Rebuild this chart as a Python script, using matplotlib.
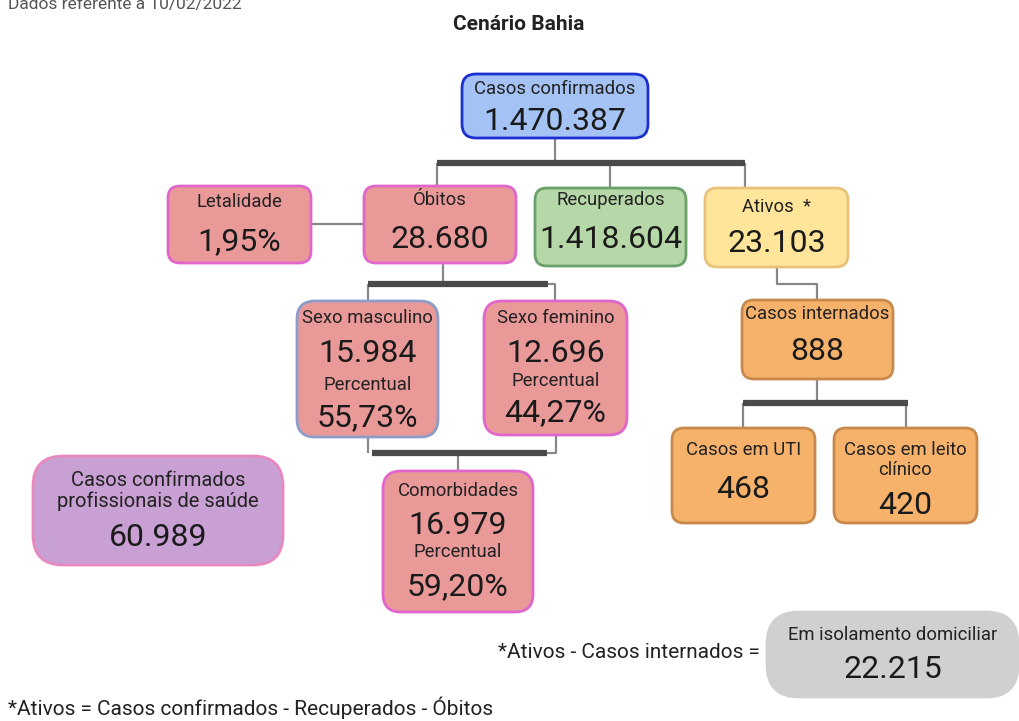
import matplotlib.pyplot as plt
from matplotlib.patches import FancyBboxPatch

plt.rcParams['font.family'] = ['Roboto', 'DejaVu Sans']

# dados
titulo = "Cenário Bahia"
data_ref = "Dados referente a 10/02/2022"
rotulos = ["Casos confirmados", "Letalidade", "Óbitos", "Recuperados", "Ativos  *",
           "Sexo masculino", "Sexo feminino", "Comorbidades", "Casos internados",
           "Casos em UTI", "Casos em leito\nclínico",
           "Casos confirmados\nprofissionais de saúde", "Em isolamento domiciliar"]
valores = ["1.470.387", "1,95%", "28.680", "1.418.604", "23.103",
           "15.984", "12.696", "16.979", "888", "468", "420", "60.989", "22.215"]
percentuais = {"Sexo masculino": "55,73%", "Sexo feminino": "44,27%", "Comorbidades": "59,20%"}

# layout: x0, y0, x1, y1 (pixels), label y, value y, pct-label y, pct y
caixas = {
    "Casos confirmados": ((462, 74, 648, 138), 89, 122, None, None),
    "Letalidade": ((168, 186, 311, 263), 202, 242, None, None),
    "Óbitos": ((364, 186, 516, 263), 200, 240, None, None),
    "Recuperados": ((535, 188, 686, 266), 200, 240, None, None),
    "Ativos  *": ((705, 188, 848, 267), 207, 244, None, None),
    "Sexo masculino": ((297, 301, 438, 437), 318, 353, 385, 418),
    "Sexo feminino": ((484, 301, 627, 435), 318, 353, 381, 413),
    "Comorbidades": ((383, 471, 533, 612), 491, 525, 552, 587),
    "Casos internados": ((742, 300, 893, 379), 314, 352, None, None),
    "Casos em UTI": ((672, 428, 815, 523), 450, 490, None, None),
    "Casos em leito\nclínico": ((834, 428, 977, 523), 460, 505, None, None),
    "Casos confirmados\nprofissionais de saúde": ((33, 456, 283, 565), 491, 537, None, None),
    "Em isolamento domiciliar": ((767, 612, 1018, 697), 635, 670, None, None),
}
estilos = {
    "Casos confirmados": ("#a4c2f4", "#1c2fd0", 14),
    "Letalidade": ("#ea9999", "#e066cc", 12),
    "Óbitos": ("#ea9999", "#e066cc", 12),
    "Recuperados": ("#b6d7a8", "#6aa06a", 12),
    "Ativos  *": ("#ffe599", "#e8c27c", 12),
    "Sexo masculino": ("#ea9999", "#8e9cc8", 18),
    "Sexo feminino": ("#ea9999", "#e066cc", 18),
    "Comorbidades": ("#ea9999", "#e066cc", 18),
    "Casos internados": ("#f6b26b", "#c8894c", 12),
    "Casos em UTI": ("#f6b26b", "#c8894c", 12),
    "Casos em leito\nclínico": ("#f6b26b", "#c8894c", 12),
    "Casos confirmados\nprofissionais de saúde": ("#c9a0d3", "#e888c0", 30),
    "Em isolamento domiciliar": ("#d0d0d0", "#d0d0d0", 32),
}

fig = plt.figure(figsize=(10.2, 7.21), dpi=100)
ax = fig.add_axes([0, 0, 1, 1])
ax.set_xlim(0, 1020)
ax.set_ylim(721, 0)
ax.axis('off')

thin = dict(color="#888888", lw=1.6, solid_capstyle='butt', zorder=1)
thick = dict(color="#4a4a4a", lw=4.5, solid_capstyle='butt', zorder=2)

# conectores
ax.plot([555, 555], [138, 163], **thin)
ax.plot([437, 745], [163, 163], **thick)
ax.plot([437, 437], [163, 186], **thin)
ax.plot([610, 610], [163, 188], **thin)
ax.plot([745, 745], [163, 188], **thin)
ax.plot([311, 364], [224, 224], **thin)
ax.plot([443, 443], [263, 284], **thin)
ax.plot([368, 548], [284, 284], **thick)
ax.plot([548, 555, 555], [284, 284, 301], **thin)
ax.plot([368, 368], [284, 301], **thin)
ax.plot([368, 368], [437, 453], **thin)
ax.plot([372, 547], [453, 453], **thick)
ax.plot([547, 556, 556], [453, 453, 435], **thin)
ax.plot([458, 458], [453, 471], **thin)
ax.plot([777, 777, 817, 817], [267, 284, 284, 300], **thin)
ax.plot([817, 817], [379, 403], **thin)
ax.plot([743, 908], [403, 403], **thick)
ax.plot([743, 743], [403, 428], **thin)
ax.plot([906, 906], [403, 428], **thin)

for nome, valor in zip(rotulos, valores):
    (x0, y0, x1, y1), ly, vy, ply, py = caixas[nome]
    face, edge, r = estilos[nome]
    ax.add_patch(FancyBboxPatch((x0, y0), x1 - x0, y1 - y0,
                                boxstyle=f"round,pad=0,rounding_size={r}",
                                fc=face, ec=edge, lw=2, zorder=3))
    cx = (x0 + x1) / 2
    fs = 14.5 if "profissionais" in nome else 13.3
    ax.text(cx, ly, nome, ha='center', va='center', fontsize=fs,
            color="#222222", zorder=4, linespacing=1.15)
    ax.text(cx, vy, valor, ha='center', va='center', fontsize=23,
            color="#1a1a1a", zorder=4)
    if ply is not None:
        ax.text(cx, ply, "Percentual", ha='center', va='center', fontsize=13.3,
                color="#222222", zorder=4)
        ax.text(cx, py, percentuais[nome], ha='center', va='center', fontsize=23,
                color="#1a1a1a", zorder=4)

ax.text(519, 24, titulo, ha='center', va='center', fontsize=15,
        fontweight='bold', color="#222222")
ax.text(8, 4, data_ref, ha='left', va='center', fontsize=12.5, color="#555555")
ax.text(760, 652, "*Ativos - Casos internados =", ha='right', va='center',
        fontsize=15, color="#222222")
ax.text(8, 708, "*Ativos = Casos confirmados - Recuperados - Óbitos", ha='left',
        va='center', fontsize=15, color="#222222")

fig.savefig("out.png", dpi=100)
